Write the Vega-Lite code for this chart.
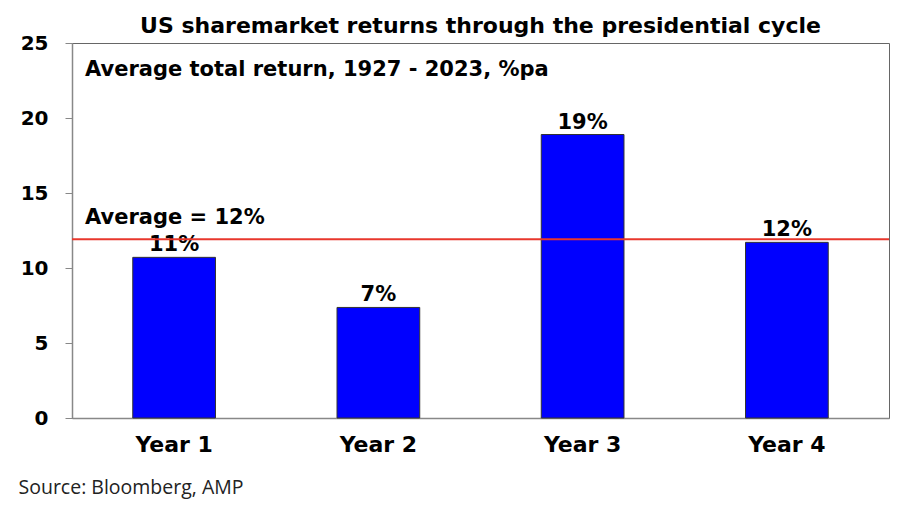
{
  "$schema": "https://vega.github.io/schema/vega-lite/v6.json",
  "autosize": {"type": "none"},
  "width": 817,
  "height": 375,
  "padding": {"left": 72, "top": 43, "right": 27, "bottom": 92},
  "background": "white",
  "config": {
    "view": {"stroke": "#666", "strokeWidth": 1},
    "font": "DejaVu Sans"
  },
  "title": {
    "text": "US sharemarket returns through the presidential cycle",
    "font": "DejaVu Sans",
    "fontSize": 22,
    "fontWeight": "bold",
    "color": "black",
    "anchor": "middle",
    "frame": "group",
    "offset": -5
  },
  "datasets": {
    "bars": [
      {"year": "Year 1", "ret": 10.71, "label": "11%"},
      {"year": "Year 2", "ret": 7.37, "label": "7%"},
      {"year": "Year 3", "ret": 18.9, "label": "19%"},
      {"year": "Year 4", "ret": 11.71, "label": "12%"}
    ],
    "avg": [{"avg": 11.91, "label": "Average = 12%"}],
    "notes": [{"text": "Average total return, 1927 - 2023, %pa", "pos": 23.2}]
  },
  "layer": [
    {
      "data": {"name": "bars"},
      "mark": {"type": "bar", "fill": "#0000FF", "stroke": "#333333", "strokeWidth": 1},
      "encoding": {
        "x": {
          "field": "year",
          "type": "nominal",
          "sort": null,
          "scale": {"paddingInner": 0.595, "paddingOuter": 0.2975},
          "axis": {
            "title": "Source: Bloomberg, AMP",
            "titleFont": "Open Sans",
            "titleFontSize": 19.5,
            "titleFontWeight": "normal",
            "titleColor": "#222",
            "titleAnchor": "start",
            "titleAlign": "left",
            "titleBaseline": "middle",
            "titleX": -54,
            "titleY": 69,
            "labelAngle": 0,
            "labelFont": "DejaVu Sans",
            "labelFontSize": 22,
            "labelFontWeight": "bold",
            "labelColor": "black",
            "labelPadding": 16,
            "ticks": false,
            "domainColor": "#888",
            "domainWidth": 1.5
          }
        },
        "y": {
          "field": "ret",
          "type": "quantitative",
          "scale": {"domain": [0, 25], "nice": false},
          "axis": {
            "title": null,
            "values": [0, 5, 10, 15, 20, 25],
            "grid": false,
            "labelFont": "DejaVu Sans",
            "labelFontSize": 20,
            "labelFontWeight": "bold",
            "labelColor": "black",
            "labelPadding": 17,
            "tickSize": 7,
            "tickColor": "#888",
            "domainColor": "#888",
            "domainWidth": 1.5
          }
        }
      }
    },
    {
      "data": {"name": "bars"},
      "mark": {"type": "text", "baseline": "bottom", "dy": -2, "font": "DejaVu Sans", "fontSize": 21, "fontWeight": "bold", "color": "black"},
      "encoding": {
        "x": {"field": "year", "type": "nominal", "sort": null},
        "y": {"field": "ret", "type": "quantitative"},
        "text": {"field": "label"}
      }
    },
    {
      "data": {"name": "avg"},
      "mark": {"type": "rule", "color": "#E8372C", "strokeWidth": 2},
      "encoding": {
        "y": {"field": "avg", "type": "quantitative"}
      }
    },
    {
      "data": {"name": "avg"},
      "mark": {"type": "text", "align": "left", "baseline": "middle", "font": "DejaVu Sans", "fontSize": 21, "fontWeight": "bold", "color": "black"},
      "encoding": {
        "x": {"datum": "Year 1", "bandPosition": -0.577},
        "y": {"datum": 13.35},
        "text": {"field": "label"}
      }
    },
    {
      "data": {"name": "notes"},
      "mark": {"type": "text", "align": "left", "baseline": "middle", "font": "DejaVu Sans", "fontSize": 21, "fontWeight": "bold", "color": "black"},
      "encoding": {
        "x": {"datum": "Year 1", "bandPosition": -0.577},
        "y": {"field": "pos", "type": "quantitative"},
        "text": {"field": "text"}
      }
    }
  ]
}
